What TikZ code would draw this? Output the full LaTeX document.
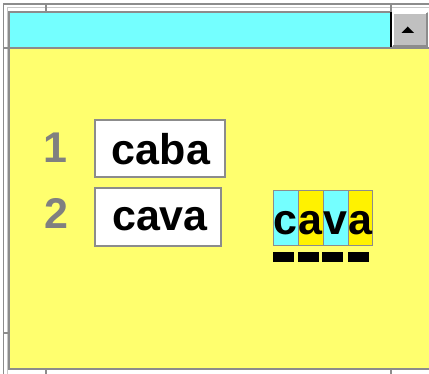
\documentclass[tikz,border=0pt]{standalone}
\usepackage{fontspec}
\setmainfont{Liberation Sans}
\definecolor{frame}{HTML}{8C8C8C}
\definecolor{lightframe}{HTML}{C8C8C8}
\definecolor{dcyan}{HTML}{74FFFF}
\definecolor{dyellow}{HTML}{FFFF6E}
\definecolor{numgray}{HTML}{808080}
\definecolor{btn}{HTML}{C0C0C0}
\tikzset{
  frameline/.style={draw=frame, line width=1.2pt},
  innerline/.style={draw=lightframe, line width=1pt},
  wordbox/.style={draw=frame, fill=white, line width=1.2pt},
  bigword/.style={font=\fontsize{43}{43}\selectfont\bfseries, inner sep=0pt, anchor=base, text=black},
  numlabel/.style={font=\fontsize{43}{43}\selectfont\bfseries, inner sep=0pt, anchor=base, text=numgray},
  cellletter/.style={font=\fontsize{43}{43}\selectfont\bfseries, inner sep=0pt, anchor=base, text=black},
  cyancell/.style={fill=dcyan, draw=frame, line width=0.8pt},
  yellowcell/.style={fill=yellow, draw=frame, line width=0.8pt},
  bar/.style={fill=black, draw=none}
}
\begin{document}
\begin{tikzpicture}[x=1pt,y=-1pt]
\useasboundingbox (0,0) rectangle (429,374);
\fill[white] (0,0) rectangle (429,374);
% outer frame
\draw[frameline] (3.5,374) -- (3.5,4) -- (429,4);
\draw[innerline] (7,374) -- (7,7.5) -- (429,7.5);
% ticks
\draw[frameline] (46,4) -- (46,12);
\draw[frameline] (391,4) -- (391,12);
\draw[frameline] (46,369) -- (46,374);
\draw[frameline] (391,369) -- (391,374);
\draw[frameline] (3.5,333) -- (9,333);
\draw[frameline] (3.5,48) -- (9,48);
% top cyan bar
\fill[dcyan] (9,12) rectangle (391,47);
\draw[frameline] (9,47) -- (9,12) -- (391,12);
\draw[black, line width=1.2pt] (391,12) -- (391,47);
% button
\fill[btn] (392,12) rectangle (428,47);
\draw[white, line width=1.5pt] (393,46) -- (393,13) -- (427,13);
\draw[frame, line width=1.5pt] (393,46) -- (427,46) -- (427,13);
\fill[black] (401.5,33) -- (414,33) -- (407.75,26.5) -- cycle;
% yellow panel
\fill[dyellow] (9,48) rectangle (429,369);
\draw[frameline] (3.5,48) -- (429,48);
\draw[frameline] (9,48) -- (9,369) -- (429,369);
% numbers and word boxes
\node[numlabel] (n1) at (55,163) {1};
\node[numlabel] (n2) at (56,229) {2};
\draw[wordbox] (95,120) rectangle (225,177);
\node[bigword] (w1) at (161,165) {caba};
\draw[wordbox] (95,188) rectangle (221,246);
\node[bigword] (w2) at (160,231) {cava};
% right widget
\draw[cyancell] (273,190) rectangle (298,245);
\draw[yellowcell] (298,190) rectangle (323,245);
\draw[cyancell] (323,190) rectangle (348,245);
\draw[yellowcell] (348,190) rectangle (372,245);
\node[cellletter] (c1) at (285.5,235) {c};
\node[cellletter] (c2) at (310.5,235) {a};
\node[cellletter] (c3) at (335.5,235) {v};
\node[cellletter] (c4) at (360.5,235) {a};
\fill[bar] (273,252) rectangle (294,262);
\fill[bar] (298,252) rectangle (319,262);
\fill[bar] (322,252) rectangle (343,262);
\fill[bar] (348,252) rectangle (369,262);
\end{tikzpicture}
\end{document}
